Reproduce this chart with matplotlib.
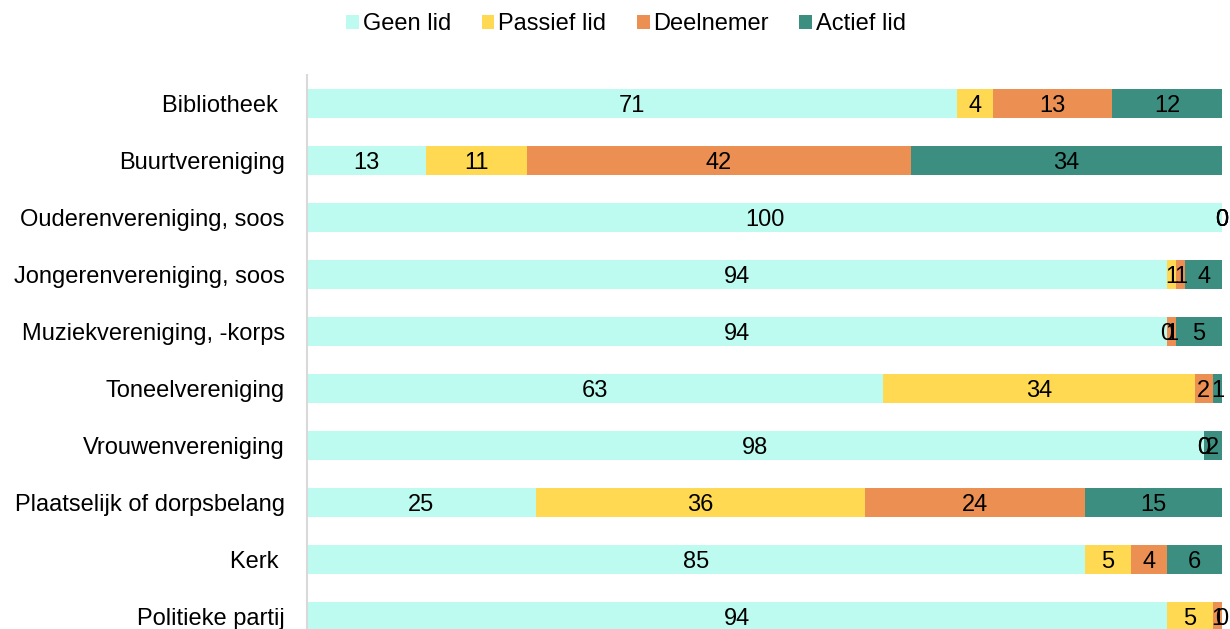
import numpy as np
import matplotlib.pyplot as plt

plt.rcParams['font.family'] = ['Liberation Sans', 'DejaVu Sans']

categories = ["Bibliotheek ", "Buurtvereniging", "Ouderenvereniging, soos",
              "Jongerenvereniging, soos", "Muziekvereniging, -korps",
              "Toneelvereniging", "Vrouwenvereniging",
              "Plaatselijk of dorpsbelang", "Kerk ", "Politieke partij"]
series = ["Geen lid", "Passief lid", "Deelnemer", "Actief lid"]
geen_lid = [71, 13, 100, 94, 94, 63, 98, 25, 85, 94]
passief_lid = [4, 11, 0, 1, 0, 34, 0, 36, 5, 5]
deelnemer = [13, 42, 0, 1, 1, 2, 0, 24, 4, 1]
actief_lid = [12, 34, 0, 4, 5, 1, 2, 15, 6, 0]
colors = ["#BDFBF0", "#FFD952", "#EC8F52", "#3C8F80"]

fs = 17

fig = plt.figure(figsize=(12.3, 6.29), dpi=100)
# axes runs a little past the bottom edge, like in the original
ax = fig.add_axes([307/1230, (629-645)/629, 915/1230, 570/629])

y = np.arange(len(categories))
left = np.zeros(len(categories))
handles = []
for name, vals, c in zip(series, [geen_lid, passief_lid, deelnemer, actief_lid], colors):
   bars = ax.barh(y, vals, left=left, height=0.5, color=c, label=name)
   txts = ax.bar_label(bars, labels=[str(v) for v in vals], label_type='center', fontsize=fs)
   for t in txts:
      # nudge numbers down a little, like in the reference
      t.set_y(-2)
   left += np.array(vals)
   handles.append(bars)

ax.set_xlim(0, 100)
ax.set_ylim(len(categories)-0.5, -0.5)
ax.set_yticks(y, labels=categories, fontsize=fs)
ax.tick_params(axis='y', length=0, pad=16)
ax.set_xticks([])
for s in ['top', 'right', 'bottom']:
   ax.spines[s].set_visible(False)
ax.spines['left'].set_color('#D9D9D9')
ax.spines['left'].set_linewidth(1.5)

fig.legend(handles=handles, loc='center', bbox_to_anchor=(626/1230, 1-24/629), ncol=4,
           frameon=False, fontsize=fs, handlelength=0.55, handleheight=0.55,
           handletextpad=0.15, columnspacing=1.3)

fig.savefig("out.png", dpi=100)
